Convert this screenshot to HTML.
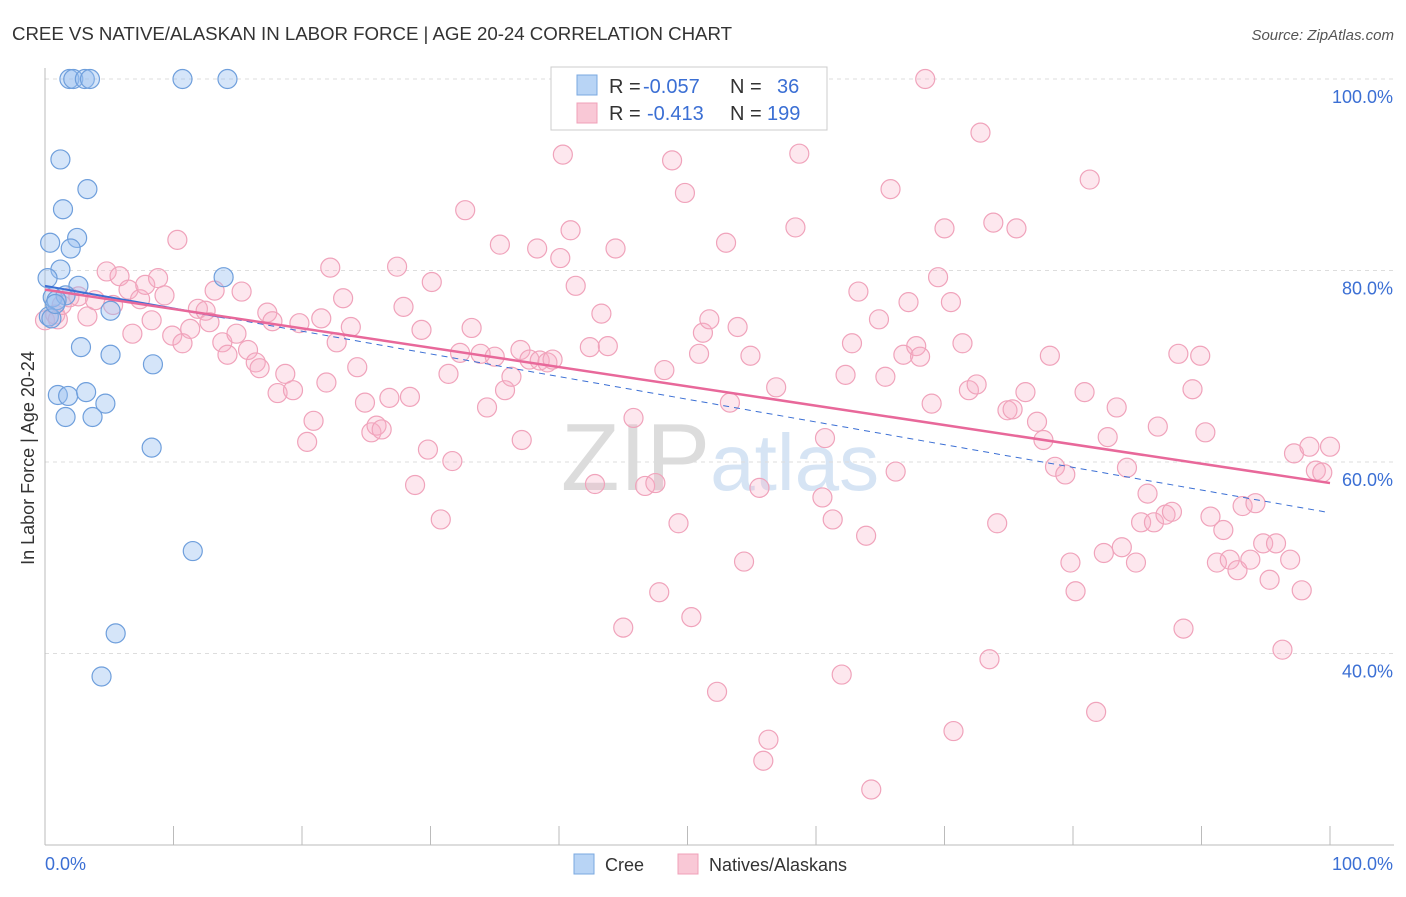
<!DOCTYPE html>
<html><head><meta charset="utf-8"><style>
body{margin:0;background:#fff;font-family:"Liberation Sans",sans-serif}
svg text{font-family:"Liberation Sans",sans-serif}
</style></head><body>
<svg id="chart" width="1406" height="892" viewBox="0 0 1406 892" xmlns="http://www.w3.org/2000/svg">
<text x="12" y="40" font-size="18.7" fill="#333" textLength="720">CREE VS NATIVE/ALASKAN IN LABOR FORCE | AGE 20-24 CORRELATION CHART</text>
<text x="1394" y="40" font-size="15" fill="#555" font-style="italic" text-anchor="end">Source: ZipAtlas.com</text>
<text x="720" y="490" font-size="96" fill="#ddd" text-anchor="middle" font-family="Liberation Serif"><tspan fill="#dcdcdc">ZIP</tspan><tspan fill="#d6e4f4" font-family="Liberation Sans" font-size="80">atlas</tspan></text>
<g id="grid"></g><g id="axes"></g><g id="pts"></g><g id="trend"></g>
<text x="34" y="458" font-size="18" fill="#333" text-anchor="middle" transform="rotate(-90 34 458)">In Labor Force | Age 20-24</text>
<g>
<rect x="551" y="67" width="276" height="63" fill="#fff" stroke="#ccc"/>
<rect x="577" y="75" width="20" height="20" fill="#b8d4f5" stroke="#7aa8e0"/>
<rect x="577" y="103" width="20" height="20" fill="#f9c8d6" stroke="#f0a0b8"/>
<g font-size="20">
<text x="609" y="93" fill="#333">R =</text><text x="643" y="93" fill="#3b6fd4">-0.057</text>
<text x="730" y="93" fill="#333">N =</text><text x="777" y="93" fill="#3b6fd4">36</text></g>
<g font-size="20">
<text x="609" y="120" fill="#333">R =</text><text x="647" y="120" fill="#3b6fd4">-0.413</text>
<text x="730" y="120" fill="#333">N =</text><text x="767" y="120" fill="#3b6fd4">199</text></g>
</g>
<g>
<rect x="574" y="854" width="20" height="20" fill="#b8d4f5" stroke="#7aa8e0"/>
<text x="605" y="871" font-size="18" fill="#333">Cree</text>
<rect x="678" y="854" width="20" height="20" fill="#f9c8d6" stroke="#f0a0b8"/>
<text x="709" y="871" font-size="18" fill="#333">Natives/Alaskans</text>
</g>
</svg>
<script>
const yTicks=[100,80,60,40];
const yTickLabels=["100.0%","80.0%","60.0%","40.0%"];
const xEndLabels=["0.0%","100.0%"];
const creeX=[1.9,2.2,3.1,3.5,10.7,14.2,1.2,3.3,1.4,0.4,2.5,2.0,1.2,0.2,13.9,2.6,0.6,1.6,0.9,5.1,0.3,0.5,2.8,5.1,8.4,1.0,1.8,3.2,4.7,1.6,3.7,8.3,11.5,5.5,4.4,0.8];
const creeY=[100,100,100,100,100,100,91.6,88.5,86.4,82.9,83.4,82.3,80.1,79.2,79.3,78.4,77.2,77.4,76.9,75.8,75.2,75.0,72.0,71.2,70.2,67.0,66.9,67.3,66.1,64.7,64.7,61.5,50.7,42.1,37.6,76.5];
const natX=[0.0,0.8,1.0,1.3,1.9,2.6,3.3,3.9,4.8,5.3,5.8,6.5,6.8,7.4,7.8,8.3,8.8,9.3,9.9,10.3,10.7,11.3,11.9,12.5,12.8,13.2,13.8,14.2,14.9,15.3,15.8,16.4,16.7,17.3,17.7,18.1,18.7,19.3,19.8,20.4,20.9,21.5,21.9,22.2,22.7,23.2,23.8,24.3,24.9,25.4,25.8,26.2,26.8,27.4,27.9,28.4,28.8,29.3,29.8,30.1,30.8,31.4,31.7,32.3,32.7,33.2,33.9,34.4,35.0,35.4,35.8,36.3,37.0,37.1,37.7,38.3,38.5,39.1,39.5,40.1,40.3,40.9,41.3,42.4,42.8,43.3,43.8,44.4,45.0,45.8,46.7,47.5,47.8,48.2,48.8,49.3,49.8,50.3,50.9,51.2,51.7,52.3,53.0,53.3,53.9,54.4,54.9,55.6,55.9,56.3,56.9,57.3,58.4,58.7,59.1,59.9,60.5,60.7,61.3,62.0,62.3,62.8,63.3,63.9,64.3,64.9,65.4,65.8,66.2,66.8,67.2,67.8,68.5,69.0,69.5,70.0,70.5,70.7,71.4,71.9,72.5,72.8,73.5,73.8,74.1,74.9,75.3,75.6,76.3,77.2,77.7,78.2,78.6,79.4,79.8,80.2,80.9,81.3,81.8,82.4,82.7,83.4,83.8,84.2,84.9,85.3,85.8,86.3,86.6,87.2,87.7,88.2,88.6,89.3,89.9,90.3,90.7,91.2,91.7,92.2,92.8,93.2,93.8,94.2,94.8,95.3,95.8,96.3,96.9,97.2,97.8,98.4,98.9,99.4,100,68.1];
const natY=[74.8,75.4,74.9,76.4,77.2,77.3,75.2,76.9,79.9,76.4,79.4,78.0,73.4,77.0,78.5,74.8,79.2,77.4,73.2,83.2,72.4,73.9,76.0,75.8,74.6,77.9,72.5,71.2,73.4,77.8,71.7,70.4,69.8,75.6,74.7,67.2,69.2,67.5,74.5,62.1,64.3,75.0,68.3,80.3,72.5,77.1,74.1,69.9,66.2,63.1,63.8,63.4,66.7,80.4,76.2,66.8,57.6,73.8,61.3,78.8,54.0,69.2,60.1,71.4,86.3,74.0,71.3,65.7,71.0,82.7,67.5,68.9,71.7,62.3,70.7,82.3,70.6,70.4,70.7,81.3,92.1,84.2,78.4,72.0,57.7,75.5,72.1,82.3,42.7,64.6,57.5,57.8,46.4,69.6,91.5,53.6,88.1,43.8,71.3,73.5,74.9,36.0,82.9,66.2,74.1,49.6,71.1,57.3,28.8,31.0,67.8,99.6,84.5,92.2,99.9,100,56.3,62.5,54.0,37.8,69.1,72.4,77.8,52.3,25.8,74.9,68.9,88.5,59.0,71.2,76.7,72.1,100,66.1,79.3,84.4,76.7,31.9,72.4,67.5,68.1,94.4,39.4,85.0,53.6,65.4,65.5,84.4,67.3,64.2,62.3,71.1,59.5,58.7,49.5,46.5,67.3,89.5,33.9,50.5,62.6,65.7,51.1,59.4,49.5,53.7,56.7,53.7,63.7,54.5,54.8,71.3,42.6,67.6,71.1,63.1,54.3,49.5,52.9,49.8,48.7,55.4,49.8,55.7,51.5,47.7,51.5,40.4,49.8,60.9,46.6,61.6,59.1,58.9,61.6,71.0];
const creeTrend=[78.4,54.7];
const natTrend=[78.0,57.8];
const NS="http://www.w3.org/2000/svg";
const X=v=>45+v*12.85, Y=v=>79+(100-v)*9.575;
function mk(tag,attrs,parent){const e=document.createElementNS(NS,tag);for(const k in attrs)e.setAttribute(k,attrs[k]);document.getElementById(parent).appendChild(e);return e;}
yTicks.forEach((t,i)=>{
 const l=mk('line',{x1:45,x2:1394,y1:Y(t),y2:Y(t),stroke:'#ddd','stroke-dasharray':'4,4'},'grid');
 
 
 const tx=mk('text',{x:1393,y:Y(t)+24,'font-size':18,fill:'#3b6fd4','text-anchor':'end'},'grid');
 tx.textContent=yTickLabels[i];
 
 
});
const ax=mk('line',{x1:45,x2:45,y1:68,y2:845,stroke:'#bbb'},'axes');


const bx=mk('line',{x1:45,x2:1394,y1:845,y2:845,stroke:'#bbb'},'axes');


for(let i=0;i<=10;i++){const t=mk('line',{x1:X(i*10),x2:X(i*10),y1:826,y2:845,stroke:'#bbb'},'axes');
 
 }
[[0,'start',45],[100,'end',1393]].forEach((d,i)=>{const t=mk('text',{x:d[2],y:870,'font-size':18,fill:'#3b6fd4','text-anchor':d[1]},'axes');t.textContent=xEndLabels[i];
 
 });
natX.forEach((v,i)=>{const c=mk('circle',{cx:X(v),cy:Y(natY[i]),r:9.5,fill:'rgba(248,175,198,0.3)',stroke:'#f0a3bb','stroke-width':1.2},'pts');
 
 });
creeX.forEach((v,i)=>{const c=mk('circle',{cx:X(v),cy:Y(creeY[i]),r:9.5,fill:'rgba(150,190,240,0.4)',stroke:'#6f9fdc','stroke-width':1.2},'pts');
 
 });
const cy=x=>creeTrend[0]+(creeTrend[1]-creeTrend[0])*x/100;
const ny=x=>natTrend[0]+(natTrend[1]-natTrend[0])*x/100;
let t1=mk('line',{x1:X(0),y1:Y(cy(0)),x2:X(14),y2:Y(cy(14)),stroke:'#3b6fd4','stroke-width':2},'trend');


let t2=mk('line',{x1:X(14),y1:Y(cy(14)),x2:X(99.6),y2:Y(cy(99.6)),stroke:'#3b6fd4','stroke-width':1,'stroke-dasharray':'6,5'},'trend');


let t3=mk('line',{x1:X(0),y1:Y(ny(0)),x2:X(100),y2:Y(ny(100)),stroke:'#e8689a','stroke-width':2.5},'trend');


</script>
</body></html>
